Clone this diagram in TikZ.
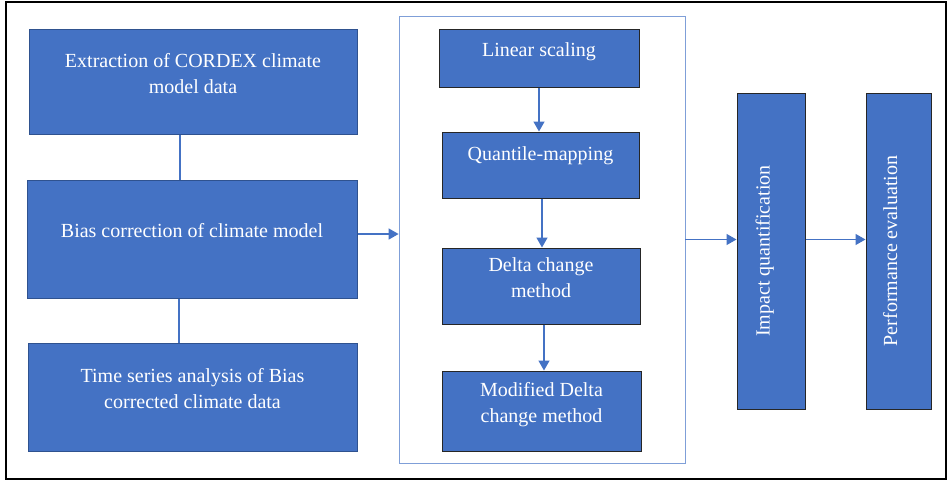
\documentclass[tikz,border=0pt]{standalone}
\usepackage{fontspec}
\setmainfont{Liberation Serif}
\usetikzlibrary{arrows.meta}
\definecolor{boxblue}{HTML}{4472C4}
\definecolor{edgeblue}{HTML}{2F528F}
\definecolor{lightline}{HTML}{7F9FD8}

\begin{document}
\begin{tikzpicture}[x=1pt,y=-1pt,
  stage/.style={draw=edgeblue,line width=1pt,fill=boxblue,text=white,align=center,
    font=\fontsize{20}{26}\selectfont,text depth=17pt,inner sep=0pt},
  method/.style={stage,draw=black!85},
  link/.style={draw=boxblue,line width=1.4pt},
  flow/.style={link,-{Triangle[length=10pt,width=11pt]}}]
\useasboundingbox (0,0) rectangle (948,480);
\draw[line width=2pt] (5.5,1.5) rectangle (946,478.5);
\node[stage,minimum width=328pt,minimum height=105pt] (extr) at (193,81.5) {Extraction of CORDEX climate\\model data};
\node[stage,minimum width=330pt,minimum height=118pt] (bias) at (192,239) {Bias correction of climate model};
\node[stage,minimum width=329pt,minimum height=108pt] (tsa) at (192.5,397) {Time series analysis of Bias\\corrected climate data};
\node[draw=lightline,line width=0.8pt,minimum width=286pt,minimum height=447pt] (methods) at (542,239.5) {};
\node[method,minimum width=200pt,minimum height=58pt] (lin) at (539,58) {Linear scaling};
\node[method,minimum width=197pt,minimum height=66pt,text depth=22pt] (qm) at (540.5,165) {Quantile-mapping};
\node[method,minimum width=198pt,minimum height=76pt] (dcm) at (541,286) {Delta change\\method};
\node[method,minimum width=199pt,minimum height=80pt] (mdcm) at (541.5,411) {Modified Delta\\change method};
\node[method,rotate=90,minimum width=316pt,minimum height=68pt] (impact) at (771,251) {Impact quantification};
\node[method,rotate=90,minimum width=316pt,minimum height=65pt] (perf) at (898.5,251) {Performance evaluation};
\draw[link] ([xshift=-13pt]extr.south) -- ([xshift=-13pt]extr.south |- bias.north);
\draw[link] ([xshift=-13pt]bias.south) -- ([xshift=-13pt]bias.south |- tsa.north);
\draw[flow] ([yshift=5pt]bias.east) -- ([yshift=5pt]bias.east -| methods.west);
\draw[flow] (lin.south) -- (lin.south |- qm.north);
\draw[flow] ([xshift=1.5pt]qm.south) -- ([xshift=1.5pt]qm.south |- dcm.north);
\draw[flow] ([xshift=3pt]dcm.south) -- ([xshift=3pt]dcm.south |- mdcm.north);
\draw[flow] (methods.east) -- (methods.east -| impact.north);
\draw[flow] (impact.south |- methods.east) -- (methods.east -| perf.north);
\end{tikzpicture}
\end{document}
